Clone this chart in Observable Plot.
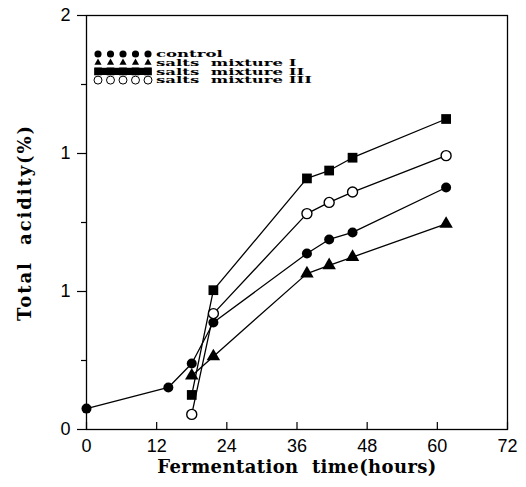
<!DOCTYPE html>
<html><head><meta charset="utf-8">
<script src="https://cdn.jsdelivr.net/npm/d3@7"></script>
<script src="https://cdn.jsdelivr.net/npm/@observablehq/plot@0.6"></script>
<style>body{margin:0;background:#fff}</style>
</head><body><div id="chart"></div>
<script>
// ---- data ----
const seriesNames = ["control", "salts  mixture I", "salts  mixture II", "salts  mixture III"];
const hoursControl = [0, 14, 18, 21.7, 37.7, 41.5, 45.5, 61.5];
const control = [0.101, 0.203, 0.319, 0.517, 0.85, 0.918, 0.952, 1.169];
const hoursSalts = [18, 21.7, 37.7, 41.5, 45.5, 61.5];
const saltsI = [0.26, 0.353, 0.753, 0.793, 0.833, 0.993];
const saltsII = [0.167, 0.673, 1.213, 1.251, 1.313, 1.5];
const saltsIII = [0.073, 0.56, 1.043, 1.097, 1.147, 1.323];
const xTicks = [0, 12, 24, 36, 48, 60, 72];
const yTicks = [0, 2/3, 4/3, 2];
const yTickLabels = ["0", "1", "1", "2"];
const yMinorTicks = [1/3, 1, 5/3];
const xTitle = "Fermentation  time(hours)";
const yTitle = "Total  acidity(%)";

const toRows = (hs, vs) => hs.map((h, i) => ({h, v: vs[i]}));
const dControl = toRows(hoursControl, control);
const dI = toRows(hoursSalts, saltsI);
const dII = toRows(hoursSalts, saltsII);
const dIII = toRows(hoursSalts, saltsIII);

const tickFont = "Liberation Sans, Arial, sans-serif";
const titleFont = "DejaVu Serif, serif";

const lineOpts = {x: "h", y: "v", stroke: "black", strokeWidth: 1.3};

const chart = Plot.plot({
  width: 526, height: 487,
  marginLeft: 86, marginRight: 19, marginTop: 15, marginBottom: 58,
  x: {domain: [0, 72]},
  y: {domain: [0, 2]},
  style: {background: "white", color: "black"},
  marks: [
    Plot.frame({stroke: "black", strokeWidth: 1.3}),
    Plot.axisX(xTicks, {tickSize: 0, tickPadding: 10, fontSize: 18, fontFamily: tickFont, label: null}),
    Plot.ruleX(xTicks, {y1: 0, y2: 0.034, stroke: "black", strokeWidth: 1.2}),
    Plot.axisY(yTicks, {tickSize: 9, tickPadding: 7, fontSize: 18, fontFamily: tickFont, label: null,
      tickFormat: d => yTickLabels[yTicks.indexOf(d)], strokeWidth: 1.2}),
    Plot.axisY(yMinorTicks, {tickSize: 5, tickFormat: () => "", label: null, strokeWidth: 1.2}),
    Plot.text([xTitle], {frameAnchor: "bottom", dy: 43, fontSize: 18, fontWeight: "bold", fontFamily: titleFont, className: "xtitle"}),
    Plot.text([yTitle], {frameAnchor: "left", dx: -61, dy: 0, rotate: -90, textAnchor: "middle", fontSize: 18, fontWeight: "bold", fontFamily: titleFont, className: "ytitle"}),
    Plot.line(dControl, lineOpts),
    Plot.line(dI, lineOpts),
    Plot.line(dII, lineOpts),
    Plot.line(dIII, lineOpts),
    Plot.dot(dControl, {x: "h", y: "v", r: 5, fill: "black"}),
    Plot.dot(dI, {x: "h", y: "v", r: 5, symbol: "triangle", fill: "black"}),
    Plot.dot(dII, {x: "h", y: "v", r: 5.5, symbol: "square", fill: "black"}),
    Plot.dot(dIII, {x: "h", y: "v", r: 5, fill: "white", stroke: "black", strokeWidth: 1.4})
  ]
});
document.getElementById("chart").appendChild(chart);

const svg = d3.select(chart);
svg.selectAll(".xtitle text").style("white-space", "pre").attr("letter-spacing", "0.4px");
svg.selectAll(".ytitle text").style("white-space", "pre").attr("letter-spacing", "1.9px");

// ---- legend inside the plot ----
const lg = svg.append("g").attr("transform", "translate(98,54)");
const symbols = [
  {type: d3.symbolCircle, size: 40, fill: "black", stroke: "none"},
  {type: d3.symbolTriangle, size: 22, fill: "black", stroke: "none"},
  {type: d3.symbolSquare, size: 60, fill: "black", stroke: "none"},
  {type: d3.symbolCircle, size: 50, fill: "white", stroke: "black"}
];
const texts = [];
seriesNames.forEach((name, i) => {
  const row = lg.append("g").attr("transform", `translate(0,${i * 8.7})`);
  for (let k = 0; k < 5; k++) {
    const s = symbols[i];
    row.append("path")
      .attr("d", d3.symbol(s.type, s.size)())
      .attr("transform", `translate(${k * 12.5},0)`)
      .attr("fill", s.fill).attr("stroke", s.stroke).attr("stroke-width", 1);
  }
  if (i === 2) row.append("rect").attr("x", -3).attr("y", -3.6).attr("width", 56).attr("height", 7.2).attr("fill", "black");
  texts.push(row.append("text").attr("x", 58).attr("y", 0).attr("dy", "0.35em")
    .attr("text-anchor", "start")
    .attr("font-family", titleFont).attr("font-weight", "bold").attr("font-size", 9.5)
    .attr("fill", "black")
    .style("white-space", "pre").text(name));
});
// stretch legend texts horizontally to the width seen in the reference
const natural = texts.map(t => t.node().getComputedTextLength());
const k = 156 / natural[3];
texts.forEach((t, i) => t.attr("textLength", natural[i] * k).attr("lengthAdjust", "spacingAndGlyphs"));
</script>
</body></html>
